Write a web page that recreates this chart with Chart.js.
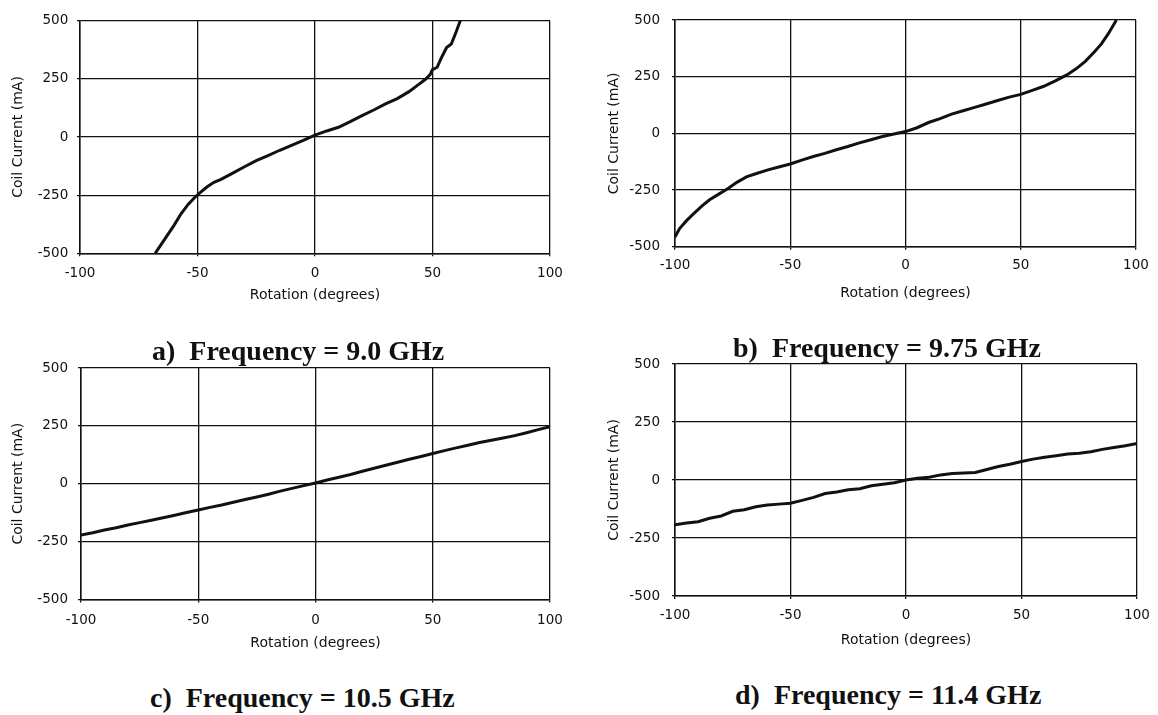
<!DOCTYPE html>
<html>
<head>
<meta charset="utf-8">
<script src="https://cdn.jsdelivr.net/npm/chart.js@4.4.1/dist/chart.umd.min.js"></script>
<style>
  html, body { margin: 0; padding: 0; background: #fff; }
  body { position: relative; width: 1158px; height: 715px; overflow: hidden; }
  canvas { position: absolute; }
  .cap {
    position: absolute;
    font: bold 28px 'Liberation Serif', 'Times New Roman', serif;
    line-height: 28px;
    white-space: pre;
    color: #111;
    z-index: 2;
  }
</style>
</head>
<body>
<canvas id="chartA" width="580" height="320" style="left:0px;top:0px"></canvas>
<canvas id="chartB" width="578" height="320" style="left:580px;top:0px"></canvas>
<canvas id="chartC" width="580" height="320" style="left:0px;top:330px"></canvas>
<canvas id="chartD" width="578" height="320" style="left:580px;top:330px"></canvas>

<div class="cap" style="left:152px;top:337px">a)  Frequency = 9.0 GHz</div>
<div class="cap" style="left:733px;top:334px">b)  Frequency = 9.75 GHz</div>
<div class="cap" style="left:150px;top:684px">c)  Frequency = 10.5 GHz</div>
<div class="cap" style="left:735px;top:681px">d)  Frequency = 11.4 GHz</div>

<script>
// axis ticks
const rotationTicks = [-100, -50, 0, 50, 100]
const currentTicks = [-500, -250, 0, 250, 500]

// a) 9.0 GHz
const rotationA = [-68, -66, -63, -60, -57, -54, -51, -49, -46, -43, -40, -35, -30, -25, -20, -15, -10, -5, 0, 5, 10, 15, 20, 25, 30, 35, 40, 44, 47, 49, 50, 52, 54, 56, 58, 60, 62]
const currentA = [-500, -470, -425, -380, -330, -290, -258, -240, -215, -195, -182, -155, -128, -102, -80, -57, -36, -15, 8, 26, 42, 66, 92, 116, 142, 165, 195, 225, 248, 268, 290, 300, 345, 385, 400, 450, 505]

// b) 9.75 GHz
const rotationB = [-100, -98, -95, -92, -88, -85, -81, -77, -73, -69, -65, -60, -55, -50, -45, -40, -35, -30, -25, -20, -15, -10, -5, 0, 5, 10, 15, 20, 25, 30, 35, 40, 45, 50, 55, 60, 65, 70, 74, 78, 82, 85, 88, 91.5]
const currentB = [-457, -420, -385, -355, -318, -293, -268, -243, -215, -192, -178, -162, -148, -135, -118, -102, -88, -72, -58, -42, -28, -14, -3, 8, 25, 48, 65, 85, 100, 115, 130, 145, 160, 172, 190, 208, 232, 258, 285, 318, 360, 395, 440, 500]

// c) 10.5 GHz
const rotationC = [-100, -95, -90, -85, -80, -75, -70, -65, -60, -55, -50, -45, -40, -35, -30, -25, -20, -15, -10, -5, 0, 5, 10, 15, 20, 25, 30, 35, 40, 45, 50, 55, 60, 65, 70, 75, 80, 85, 90, 95, 100]
const currentC = [-222, -212, -200, -190, -178, -168, -158, -147, -136, -124, -113, -102, -92, -80, -68, -57, -45, -32, -20, -8, 3, 16, 28, 40, 54, 67, 80, 93, 106, 118, 131, 143, 155, 166, 178, 188, 198, 208, 220, 234, 246]

// d) 11.4 GHz
const rotationD = [-100, -95, -90, -85, -80, -75, -70, -65, -60, -55, -50, -45, -40, -35, -30, -25, -20, -15, -10, -5, 0, 5, 10, 15, 20, 25, 30, 35, 40, 45, 50, 55, 60, 65, 70, 75, 80, 85, 90, 95, 100]
const currentD = [-193, -185, -180, -165, -155, -135, -128, -115, -108, -104, -100, -88, -75, -58, -52, -42, -38, -25, -18, -12, 0, 8, 12, 22, 28, 30, 32, 45, 58, 68, 80, 90, 98, 105, 112, 115, 122, 132, 140, 148, 157]

const INK = '#111'
const TICK_LEN = 3

// where each plot sits on the page
const boxes = {
  chartA: { left: 0, top: 0, width: 580, height: 320, plotL: 80, plotR: 550, plotT: 20.7, plotB: 253.3, yTitleX: 18.3, yTickGap: 11.7, xTickY: 273, xTitleY: 295 },
  chartB: { left: 580, top: 0, width: 578, height: 320, plotL: 675, plotR: 1136, plotT: 13.2, plotB: 246.7, yTitleX: 614, yTickGap: 15, xTickY: 265, xTitleY: 293 },
  chartC: { left: 0, top: 330, width: 580, height: 320, plotL: 81, plotR: 550, plotT: 368, plotB: 599.5, yTitleX: 18.5, yTickGap: 13, xTickY: 620, xTitleY: 643 },
  chartD: { left: 580, top: 330, width: 578, height: 320, plotL: 675, plotR: 1137, plotT: 364, plotB: 596, yTitleX: 614, yTickGap: 15, xTickY: 615, xTitleY: 640 },
}

const tickFont = { family: "'DejaVu Sans', sans-serif", size: 13.5 }
const titleFont = { family: "'DejaVu Sans', sans-serif", size: 14 }

function makeChart(id, xs, ys) {
  const b = boxes[id]
  const ctx = document.getElementById(id).getContext('2d')
  const canvasBottom = b.top + b.height
  const tickLine = tickFont.size * 1.2 / 2
  const titleLine = titleFont.size * 1.2 / 2

  return new Chart(ctx, {
    type: 'line',
    data: {
      datasets: [{
        data: xs.map((x, i) => ({ x: x, y: ys[i] })),
        borderColor: INK,
        borderWidth: 3,
        pointRadius: 0,
        tension: 0,
        fill: false,
      }],
    },
    options: {
      responsive: false,
      animation: false,
      events: [],
      layout: {
        padding: { left: 0, top: b.plotT - b.top, right: b.left + b.width - b.plotR, bottom: 0 },
      },
      plugins: {
        legend: { display: false },
        tooltip: { enabled: false },
      },
      scales: {
        x: {
          type: 'linear',
          min: rotationTicks[0],
          max: rotationTicks[rotationTicks.length - 1],
          afterBuildTicks: (scale) => { scale.ticks = rotationTicks.map((v) => ({ value: v })) },
          afterFit: (scale) => { scale.height = canvasBottom - b.plotB },
          ticks: {
            color: INK,
            font: tickFont,
            padding: b.xTickY - b.plotB - TICK_LEN - tickLine,
            maxRotation: 0,
          },
          grid: { color: INK, lineWidth: 1.3, tickLength: TICK_LEN },
          border: { color: INK, width: 1.5 },
          title: {
            display: true,
            text: 'Rotation (degrees)',
            color: INK,
            font: titleFont,
            padding: { top: 0, bottom: canvasBottom - b.xTitleY - titleLine },
          },
        },
        y: {
          type: 'linear',
          min: currentTicks[0],
          max: currentTicks[currentTicks.length - 1],
          afterBuildTicks: (scale) => { scale.ticks = currentTicks.map((v) => ({ value: v })) },
          afterFit: (scale) => { scale.width = b.plotL - b.left },
          ticks: {
            color: INK,
            font: tickFont,
            padding: b.yTickGap - TICK_LEN,
          },
          grid: { color: INK, lineWidth: 1.3, tickLength: TICK_LEN },
          border: { color: INK, width: 1.5 },
          title: {
            display: true,
            text: 'Coil Current (mA)',
            color: INK,
            font: titleFont,
            padding: { top: b.yTitleX - b.left - titleLine, bottom: 0 },
          },
        },
      },
    },
  })
}

makeChart('chartA', rotationA, currentA)
makeChart('chartB', rotationB, currentB)
makeChart('chartC', rotationC, currentC)
makeChart('chartD', rotationD, currentD)
</script>
</body>
</html>
